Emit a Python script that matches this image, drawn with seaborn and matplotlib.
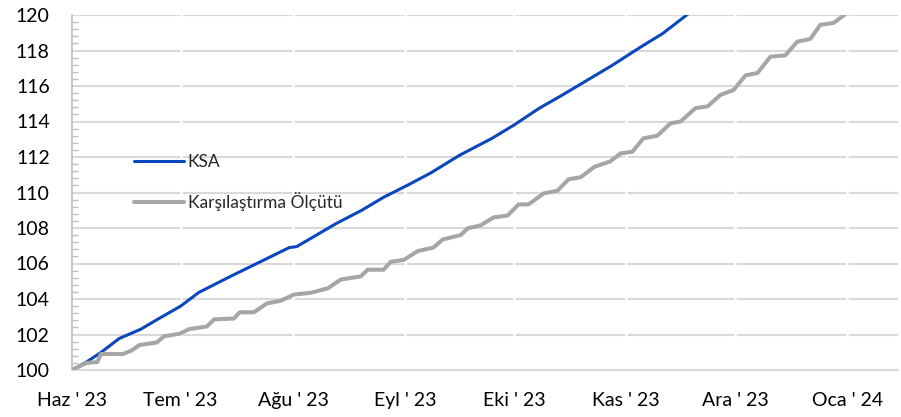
import pandas as pd
import seaborn as sns
import matplotlib.pyplot as plt
from matplotlib.ticker import MultipleLocator

# KSA (fund) - dates and index values
ksa_dates = [
    "2023-06-01", "2023-06-05", "2023-06-09", "2023-06-14", "2023-06-20",
    "2023-06-25", "2023-07-01", "2023-07-06", "2023-07-15", "2023-07-25",
    "2023-07-31", "2023-08-02", "2023-08-13", "2023-08-20", "2023-08-26",
    "2023-09-02", "2023-09-08", "2023-09-16", "2023-09-25", "2023-10-01",
    "2023-10-08", "2023-10-14", "2023-10-21", "2023-10-28", "2023-11-05",
    "2023-11-11", "2023-11-18",
]
ksa_values = [
    100.0, 100.45, 100.99, 101.77, 102.3,
    102.9, 103.6, 104.37, 105.3, 106.3,
    106.9, 106.95, 108.26, 109.0, 109.73,
    110.45, 111.1, 112.1, 113.06, 113.8,
    114.75, 115.45, 116.3, 117.15, 118.2,
    118.95, 120.05,
]

# Karşılaştırma Ölçütü (benchmark) - days after 1 Jun 2023, step-like moves
bench_days = [
    0, 4, 7, 8, 14, 16.5, 18.5, 23.4, 25.4, 29.8, 32.3, 37.2, 39.2, 44.7,
    46.3, 50.2, 53.8, 57.6, 61.2, 65.9, 70.6, 74.2, 79.7, 81.6, 86.0, 88.0,
    91.6, 95.4, 99.8, 102.3, 107.3, 109.2, 112.8, 116.4, 120.2, 123.3, 126.0,
    130.2, 134.0, 137.1, 140.4, 144.2, 148.6, 151.4, 154.7, 157.7, 161.6,
    165.2, 168.0, 172.1, 175.4, 179.0, 182.6, 185.9, 189.2, 192.8, 196.9,
    200.2, 203.8, 206.6, 210.2, 213.5,
]
bench_values = [
    100.0, 100.4, 100.45, 100.9, 100.9, 101.1, 101.4, 101.55, 101.9, 102.05,
    102.3, 102.45, 102.85, 102.9, 103.25, 103.25, 103.75, 103.9, 104.25,
    104.35, 104.6, 105.1, 105.27, 105.65, 105.65, 106.1, 106.2, 106.7, 106.9,
    107.35, 107.6, 107.98, 108.15, 108.6, 108.7, 109.33, 109.33, 109.95,
    110.1, 110.75, 110.86, 111.45, 111.75, 112.2, 112.3, 113.05, 113.2,
    113.9, 114.0, 114.75, 114.85, 115.5, 115.77, 116.6, 116.73, 117.65,
    117.73, 118.5, 118.65, 119.45, 119.55, 120.05,
]

month_starts = ["2023-06-01", "2023-07-01", "2023-08-01", "2023-09-01",
                "2023-10-01", "2023-11-01", "2023-12-01", "2024-01-01"]
month_labels = ["Haz ' 23", "Tem ' 23", "Ağu ' 23", "Eyl ' 23",
                "Eki ' 23", "Kas ' 23", "Ara ' 23", "Oca ' 24"]

series_names = ["KSA", "Karşılaştırma Ölçütü"]
colors = ["#0A47BD", "#A6A6A6"]

start = pd.Timestamp("2023-06-01")
ksa_df = pd.DataFrame({"Tarih": pd.to_datetime(ksa_dates), "Değer": ksa_values,
                       "Seri": series_names[0]})
bench_df = pd.DataFrame({
    "Tarih": [start + pd.Timedelta(hours=round(d * 24)) for d in bench_days],
    "Değer": bench_values,
    "Seri": series_names[1],
})
plot_df = pd.concat([ksa_df, bench_df], ignore_index=True)

sns.set_style("white")
plt.rcParams["font.family"] = ["Lato", "DejaVu Sans"]

fig = plt.figure(figsize=(9.01, 4.17), dpi=100)
# plot area in pixels: x 72..898, y 15..370
ax = fig.add_axes([72 / 901, 1 - 370 / 417, (898 - 72) / 901, (370 - 15) / 417])

grid_color = "#D9D9D9"
widths = [2.2, 2.9]

sns.lineplot(
    data=plot_df,
    x="Tarih",
    y="Değer",
    hue="Seri",
    hue_order=series_names,
    palette=colors,
    linewidth=2.3,
    ax=ax,
    zorder=3,
)
# benchmark line a bit heavier, round joins like the original
for line, lw in zip(ax.lines[:2], widths):
    line.set_linewidth(lw)
    line.set_solid_joinstyle("round")
    line.set_solid_capstyle("round")

ax.set_ylim(100, 120)
ax.set_xlim(start, start + pd.Timedelta(days=228))
ax.yaxis.set_major_locator(MultipleLocator(2))
ax.yaxis.set_minor_locator(MultipleLocator(0.4))

ticks = pd.to_datetime(month_starts)
ax.set_xticks(ticks)
ax.set_xticklabels(month_labels)

ax.set_xlabel("")
ax.set_ylabel("")

# horizontal grid with white month breaks
ax.grid(axis="y", color=grid_color, linewidth=1.5, zorder=0)
for t in ticks[1:]:
    ax.axvline(t, color="white", linewidth=1.8, zorder=1)

for side in ["top", "right"]:
    ax.spines[side].set_visible(False)
ax.spines["left"].set_color("#BFBFBF")
ax.spines["left"].set_linewidth(1.2)
ax.spines["bottom"].set_color(grid_color)
ax.spines["bottom"].set_linewidth(1.5)

ax.tick_params(axis="y", which="major", left=True, direction="out", length=0,
               pad=16, labelsize=14, labelcolor="black")
ax.tick_params(axis="y", which="minor", left=True, direction="in", length=4,
               width=1, color="#BFBFBF")
ax.tick_params(axis="x", which="major", length=0, pad=16, labelsize=14,
               labelcolor="black")

ax.legend(
    loc="upper left",
    bbox_to_anchor=(62 / 826, 1 - 139 / 355),
    frameon=False,
    fontsize=12.5,
    handlelength=2.9,
    handletextpad=0.2,
    labelspacing=1.25,
    borderpad=0,
    borderaxespad=0,
)
for line, lw in zip(ax.get_legend().get_lines(), widths):
    line.set_linewidth(lw)

plt.savefig("out.png", dpi=100)
